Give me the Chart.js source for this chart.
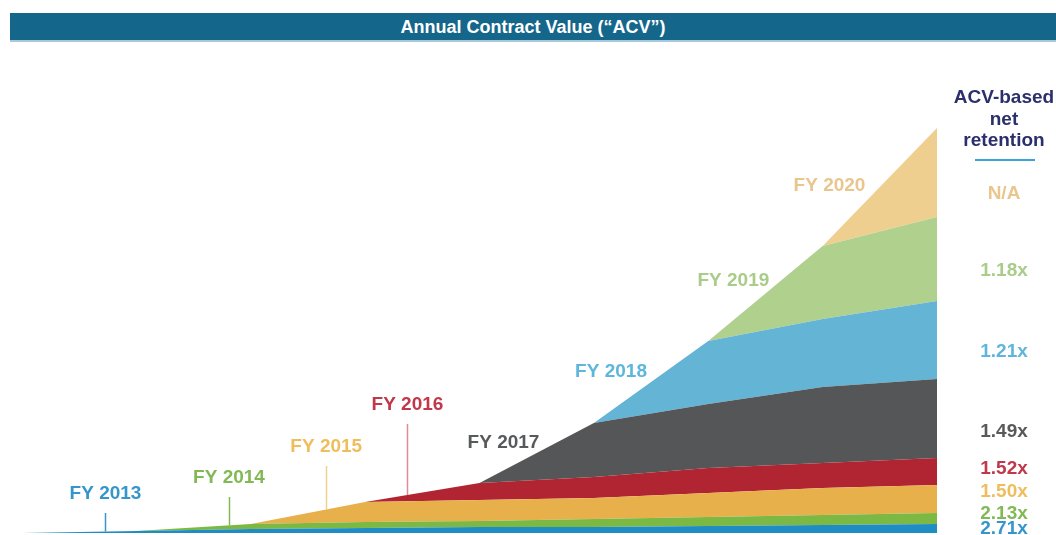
<!DOCTYPE html>
<html>
<head>
<meta charset="utf-8">
<script src="https://cdn.jsdelivr.net/npm/chart.js@4.4.1/dist/chart.umd.min.js"></script>
<style>
  body { margin: 0; background: #fff; }
  #wrap { position: relative; width: 1056px; height: 535px; overflow: hidden; }
  #titleBar {
    position: absolute; left: 10px; top: 13px; width: 1046px; height: 27px;
    background: #15668b; border-bottom: 2px solid #a9c9d9;
    color: #fff; font: bold 18px "Liberation Sans", Arial, sans-serif;
    text-align: center; line-height: 28px;
  }
  #acvChart { position: absolute; left: 0; top: 0; }
</style>
</head>
<body>
<div id="wrap">
  <canvas id="acvChart" width="1056" height="535"></canvas>
  <div id="titleBar">Annual Contract Value (“ACV”)</div>
</div>
<script>
// year boundaries: start of FY 2013, then end of each fiscal year
const periods = ["Start", "FY 2013", "FY 2014", "FY 2015", "FY 2016", "FY 2017", "FY 2018", "FY 2019", "FY 2020"];
const cohorts = ["FY 2013", "FY 2014", "FY 2015", "FY 2016", "FY 2017", "FY 2018", "FY 2019", "FY 2020"];

// ACV by cohort (relative units)
const acvFY2013 = [0, 2, 4, 5, 6, 6, 7, 8, 9];
const acvFY2014 = [0, 0, 5, 6, 6, 8, 9, 10, 11];
const acvFY2015 = [0, 0, 0, 20, 21, 21, 24, 27, 28];
const acvFY2016 = [0, 0, 0, 0, 17, 21, 25, 25, 27];
const acvFY2017 = [0, 0, 0, 0, 0, 54, 64, 76, 79];
const acvFY2018 = [0, 0, 0, 0, 0, 0, 63, 68, 78];
const acvFY2019 = [0, 0, 0, 0, 0, 0, 0, 73, 84];
const acvFY2020 = [0, 0, 0, 0, 0, 0, 0, 0, 89];

const netRetention = ["2.71x", "2.13x", "1.50x", "1.52x", "1.49x", "1.21x", "1.18x", "N/A"];

const cohortData = [acvFY2013, acvFY2014, acvFY2015, acvFY2016, acvFY2017, acvFY2018, acvFY2019, acvFY2020];
const fillColors = ["#1f8dc4", "#7cb944", "#e8b04b", "#b12533", "#555658", "#64b4d6", "#b0d08e", "#efcf90"];
const textColors = ["#3596cb", "#82b955", "#f0bd5c", "#c0394a", "#58595b", "#5fb6dc", "#a9cc8a", "#e9c68d"];
const leaderColors = ["#3596cb", "#82b955", "#f3d08a", "#e08a95"];

// label placement: x in period index units, y in pixels
const labelSpots = [
  { x: 0.73, y: 494 },
  { x: 1.81, y: 478 },
  { x: 2.66, y: 447 },
  { x: 3.37, y: 405 },
  { x: 4.21, y: 443 },
  { x: 5.15, y: 372 },
  { x: 6.22, y: 281 },
  { x: 7.06, y: 186 },
];
const retentionY = [529, 514, 492, 469, 432, 352, 271, 194];

const FONT = '"Liberation Sans", Arial, sans-serif';

function stackTopAt(cohortIndex, pos) {
  const i = Math.floor(pos);
  const t = pos - i;
  let a = 0;
  let b = 0;
  for (let c = 0; c <= cohortIndex; c++) {
    a += cohortData[c][i];
    b += cohortData[c][Math.min(i + 1, periods.length - 1)];
  }
  return a + (b - a) * t;
}

const annotationsPlugin = {
  id: "acvAnnotations",
  afterDatasetsDraw(chart) {
    const ctx = chart.ctx;
    const xs = chart.scales.x;
    const ys = chart.scales.y;
    ctx.save();
    ctx.font = "bold 19px " + FONT;
    ctx.textAlign = "center";
    ctx.textBaseline = "middle";

    cohorts.forEach((name, i) => {
      const spot = labelSpots[i];
      const px = xs.getPixelForValue(spot.x);
      ctx.fillStyle = textColors[i];
      ctx.fillText(name, px, spot.y);
      if (i < leaderColors.length) {
        const bottom = ys.getPixelForValue(stackTopAt(i, spot.x));
        ctx.strokeStyle = leaderColors[i];
        ctx.lineWidth = 1.5;
        ctx.beginPath();
        ctx.moveTo(Math.round(px) + 0.5, spot.y + 19);
        ctx.lineTo(Math.round(px) + 0.5, bottom);
        ctx.stroke();
      }
    });

    // retention column
    const colX = 1004;
    ctx.fillStyle = "#2b2f6b";
    ctx.fillText("ACV-based", colX, 98);
    ctx.fillText("net", colX, 120);
    ctx.fillText("retention", colX, 141);
    ctx.strokeStyle = "#3aa3d8";
    ctx.lineWidth = 2;
    ctx.beginPath();
    ctx.moveTo(975, 160);
    ctx.lineTo(1035, 160);
    ctx.stroke();

    netRetention.forEach((v, i) => {
      ctx.fillStyle = textColors[i];
      ctx.fillText(v, colX, retentionY[i]);
    });
    ctx.restore();
  },
};

const dataAcvChart = {
  labels: periods,
  datasets: cohorts.map((name, i) => ({
    label: name,
    data: cohortData[i],
    backgroundColor: fillColors[i],
    borderWidth: 0,
    pointRadius: 0,
    tension: 0,
    fill: i === 0 ? "origin" : "-1",
  })),
};

const configAcvChart = {
  type: "line",
  data: dataAcvChart,
  options: {
    responsive: false,
    animation: false,
    events: [],
    layout: {
      padding: { left: 22, right: 119, top: 113, bottom: 2 },
    },
    scales: {
      x: { display: false, offset: false },
      y: { display: false, stacked: true, min: 0, max: 420 },
    },
    plugins: {
      legend: { display: false },
      tooltip: { enabled: false },
    },
  },
  plugins: [annotationsPlugin],
};

const acvChart = new Chart(document.getElementById("acvChart"), configAcvChart);
</script>
</body>
</html>
